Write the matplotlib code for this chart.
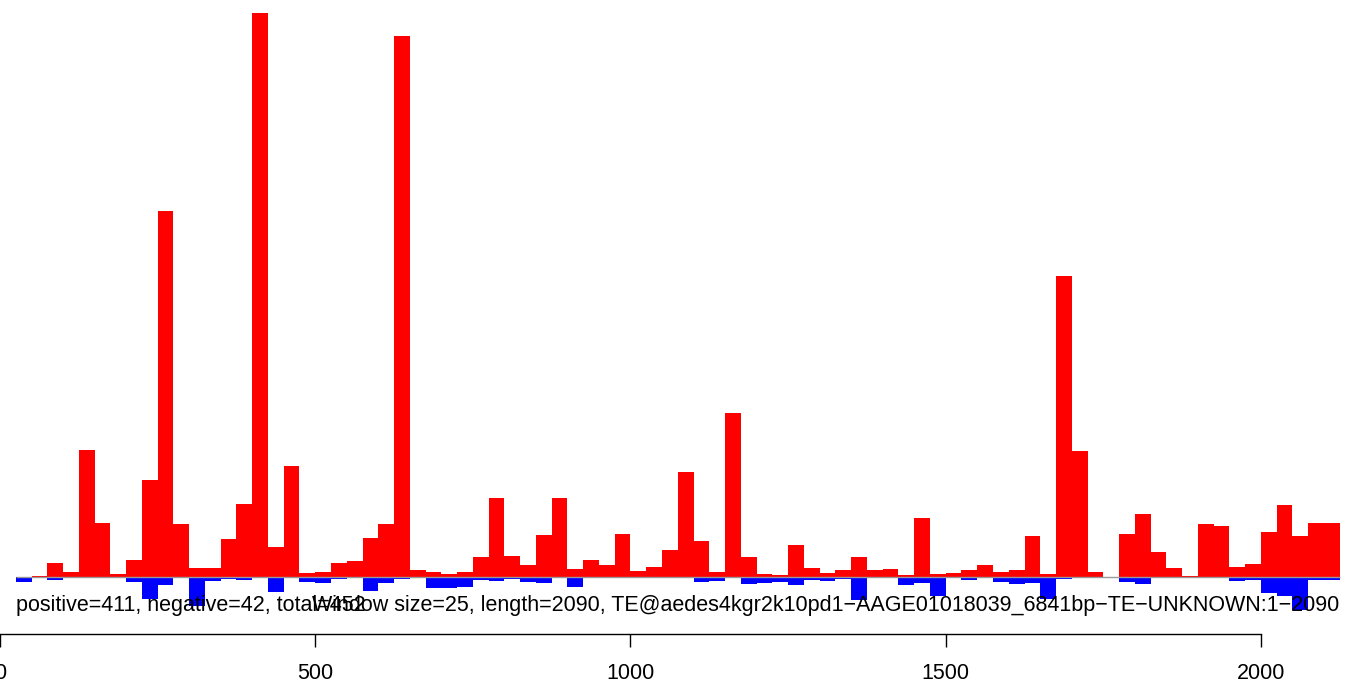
import numpy as np
import matplotlib.pyplot as plt

plt.rcParams['font.family'] = ['Liberation Sans', 'DejaVu Sans']

# window size and sequence length
window = 25
seq_length = 2090

# per-window scores (84 windows)
positive = [0.0, 0.1, 1.37, 0.47, 12.67, 5.4, 0.27, 1.7, 9.67, 36.57,
            5.27, 0.87, 0.87, 3.77, 7.27, 56.37, 2.97, 11.07, 0.33, 0.47,
            1.37, 1.57, 3.87, 5.27, 54.07, 0.67, 0.47, 0.27, 0.47, 1.97,
            7.87, 2.07, 1.17, 4.17, 7.87, 0.77, 1.67, 1.17, 4.27, 0.57,
            0.97, 2.67, 10.47, 3.57, 0.47, 16.37, 1.97, 0.27, 0.17, 3.17,
            0.87, 0.37, 0.67, 1.97, 0.67, 0.77, 0.17, 5.87, 0.27, 0.37,
            0.67, 1.17, 0.47, 0.67, 4.07, 0.27, 30.07, 12.57, 0.47, 0.0,
            4.27, 6.27, 2.47, 0.87, 0.07, 5.27, 5.07, 0.97, 1.27, 4.47,
            7.17, 4.07, 5.37, 5.37]
negative = [0.5, 0.0, 0.3, 0.0, 0.17, 0.1, 0.1, 0.5, 2.2, 0.83,
            0.1, 2.9, 0.4, 0.2, 0.33, 0.1, 1.5, 0.1, 0.5, 0.6,
            0.2, 0.1, 1.4, 0.6, 0.2, 0.0, 1.1, 1.1, 1.0, 0.33,
            0.4, 0.2, 0.5, 0.6, 0.1, 1.0, 0.05, 0.05, 0.05, 0.05,
            0.05, 0.05, 0.05, 0.5, 0.4, 0.05, 0.7, 0.6, 0.5, 0.8,
            0.3, 0.4, 0.2, 2.3, 0.1, 0.1, 0.8, 0.6, 1.9, 0.05,
            0.3, 0.1, 0.5, 0.7, 0.6, 2.2, 0.2, 0.05, 0.0, 0.0,
            0.5, 0.7, 0.1, 0.1, 0.1, 0.1, 0.1, 0.4, 0.3, 1.6,
            1.9, 3.3, 0.3, 0.3]

n_pos, n_neg, n_tot = 411, 42, 452
te_name = "TE@aedes4kgr2k10pd1\u2212AAGE01018039_6841bp\u2212TE\u2212UNKNOWN"

starts = window * np.arange(1, len(positive) + 1)
neg = -np.array(negative)

W, H = 1357, 682
fig = plt.figure(figsize=(W / 100, H / 100), dpi=100)
ax = fig.add_axes([0, 48 / H, 1, 634 / H])

ax.bar(starts, positive, width=window, align='edge', color='#ff0000', linewidth=0)
ax.hlines(0, starts[0], starts[-1] + window, color='#999999', linewidth=1)
ax.bar(starts, neg, width=window, align='edge', color='#0000ff', linewidth=0)
# thin blue rim along the zero line for windows that have a negative bar
ax.bar(starts[neg < 0], np.full((neg < 0).sum(), -0.08), width=window,
       align='edge', color='#0000ff', linewidth=0)

ax.text(starts[0], -3.4, f"positive={n_pos}, negative={n_neg}, total={n_tot}",
        ha='left', va='baseline', fontsize=15.5)
ax.text(starts[-1] + window, -3.4,
        f"Window size={window}, length={seq_length}, {te_name}:1\u2212{seq_length}",
        ha='right', va='baseline', fontsize=15.5)

# x-range and y-range follow the original device layout
ax.set_xlim(4.6 / 0.6326, (W + 4.6) / 0.6326)
ax.set_ylim(-5.73, 57.67)

for s in ['top', 'left', 'right']:
    ax.spines[s].set_visible(False)
ax.spines['bottom'].set_bounds(0, 2000)
ax.spines['bottom'].set_linewidth(1.0)
ax.set_yticks([])
ax.set_xticks([0, 500, 1000, 1500, 2000])
ax.tick_params(axis='x', direction='out', length=9, width=1.0, pad=12,
               labelsize=15.5)
ax.patch.set_visible(False)

fig.savefig("out.png", dpi=100)
